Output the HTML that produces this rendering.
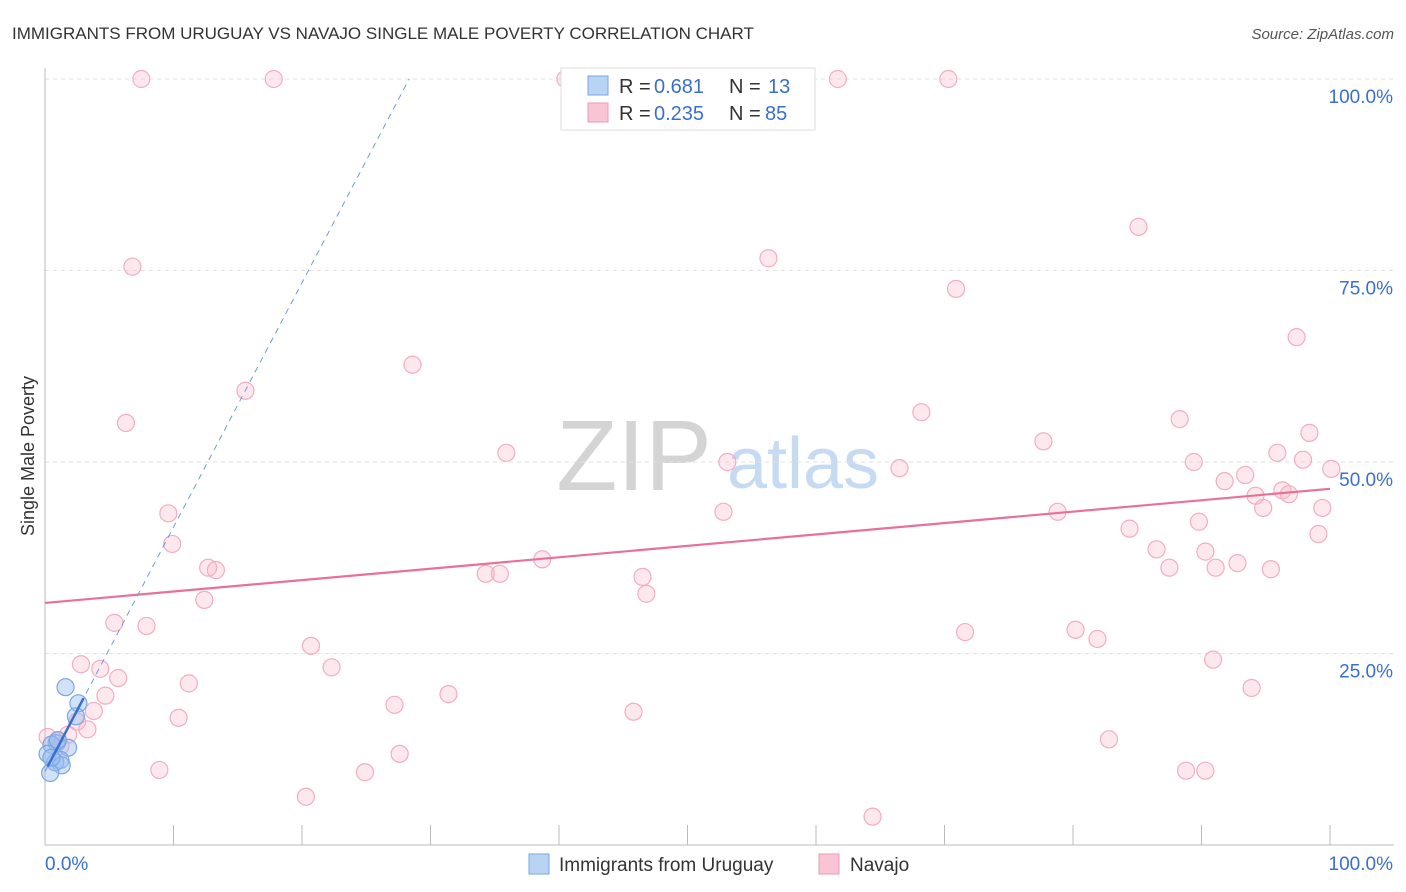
<!DOCTYPE html>
<html><head><meta charset="utf-8">
<style>
body{margin:0;background:#fff;font-family:"Liberation Sans",sans-serif;}
#wrap{position:relative;width:1406px;height:892px;overflow:hidden;}
svg text{font-family:"Liberation Sans",sans-serif;}
</style></head>
<body>
<div id="wrap">
<svg id="chart" width="1406" height="892">
<text x="12" y="39" font-size="17" fill="#333">IMMIGRANTS FROM URUGUAY VS NAVAJO SINGLE MALE POVERTY CORRELATION CHART</text>
<text x="1394" y="39" font-size="15" fill="#555" font-style="italic" text-anchor="end">Source: ZipAtlas.com</text>
<g>
<text x="634" y="490" font-size="100" fill="#d4d4d4" font-family="Liberation Serif" text-anchor="middle">ZIP</text>
<text x="803" y="488" font-size="72" fill="#c6daf2" text-anchor="middle">atlas</text>
</g>
<g id="grid"></g>
<g id="axes"></g>
<g id="pts"></g>
<g id="lines"></g>
<text transform="translate(34,456) rotate(-90)" font-size="18" fill="#333" text-anchor="middle">Single Male Poverty</text>
<g>
<rect x="561" y="68" width="254" height="62" fill="#fff" stroke="#ddd"/>
<rect x="588" y="76" width="20" height="19" fill="#b9d3f5" stroke="#7aa7e0"/>
<text x="619" y="93" font-size="20" fill="#333">R = </text><text x="654" y="93" font-size="20" fill="#3a6fd0">0.681</text>
<text x="729" y="93" font-size="20" fill="#333">N = </text><text x="768" y="93" font-size="20" fill="#3a6fd0">13</text>
<rect x="588" y="103" width="20" height="19" fill="#f9c4d4" stroke="#ee9ab4"/>
<text x="619" y="120" font-size="20" fill="#333">R = </text><text x="654" y="120" font-size="20" fill="#3a6fd0">0.235</text>
<text x="729" y="120" font-size="20" fill="#333">N = </text><text x="765" y="120" font-size="20" fill="#3a6fd0">85</text>
</g>
<g>
<rect x="529" y="854" width="20" height="20" fill="#b9d3f5" stroke="#7aa7e0"/>
<text x="559" y="871" font-size="19" fill="#333">Immigrants from Uruguay</text>
<rect x="819" y="854" width="20" height="20" fill="#f9c4d4" stroke="#ee9ab4"/>
<text x="850" y="871" font-size="19" fill="#333">Navajo</text>
</g>
</svg>
</div>
<script>
const yTicks=[25,50,75,100];
const yTickLabels=["25.0%","50.0%","75.0%","100.0%"];
const xTickLabels=["0.0%","100.0%"];
const pinkX=[7.5,17.8,40.5,61.7,70.3,85.1,6.8,56.3,70.9,97.4,28.6,15.6,6.3,68.2,88.3,77.7,35.9,53.1,98.4,95.9,89.4,97.9,66.5,100.1,93.4,91.8,94.2,96.3,96.8,94.8,99.4,9.6,52.8,78.8,84.4,89.8,99.1,9.9,86.5,90.3,38.7,12.7,13.3,87.5,91.1,92.8,95.4,34.3,35.4,46.5,46.8,12.4,5.4,7.9,71.6,80.2,81.9,20.7,2.8,22.3,90.9,4.3,5.7,11.2,4.7,31.4,93.9,3.8,27.2,10.4,45.8,2.5,3.3,1.8,82.8,1.0,0.2,1.2,27.6,8.9,24.9,88.8,90.3,20.3,64.4];
const pinkY=[100,100,100,100,100,80.7,75.5,76.6,72.6,66.3,62.7,59.3,55.1,56.5,55.6,52.7,51.2,50.0,53.8,51.2,50.0,50.3,49.2,49.1,48.3,47.5,45.6,46.3,45.8,44.0,44.0,43.3,43.5,43.5,41.3,42.2,40.6,39.3,38.6,38.3,37.3,36.2,35.9,36.2,36.2,36.8,36.0,35.4,35.4,35.0,32.8,32.0,29.0,28.6,27.8,28.1,26.9,26.0,23.6,23.2,24.2,23.0,21.8,21.1,19.5,19.7,20.5,17.5,18.3,16.6,17.4,16.1,15.1,14.4,13.8,13.6,14.1,12.9,11.9,9.8,9.5,9.7,9.7,6.3,3.7];
const blueX=[1.6,2.6,2.4,0.9,1.8,0.5,0.2,1.2,0.8,1.3,0.4,0.5,1.0];
const blueY=[20.6,18.5,16.8,13.3,12.7,13.1,11.9,11.1,10.8,10.4,9.4,11.4,13.7];
const pinkTrend=[31.6,46.5];
const blueTrend={intercept:9.6,slope:3.19};
const NS="http://www.w3.org/2000/svg";
const X0=45,X1=1330,Y0=845,Y100=79;
const sx=v=>X0+(X1-X0)*v/100;
const sy=v=>Y0-(Y0-Y100)*v/100;
function mk(tag,attrs,parent){const e=document.createElementNS(NS,tag);for(const k in attrs)e.setAttribute(k,attrs[k]);parent.appendChild(e);return e;}
const grid=document.getElementById('grid'),axes=document.getElementById('axes'),pts=document.getElementById('pts'),lines=document.getElementById('lines');
yTicks.forEach((t,i)=>{
 const l=mk('line',{x1:X0,x2:1394,y1:sy(t),y2:sy(t),stroke:'#e2e2e2','stroke-dasharray':'4,4'},grid);
 
 
 const tx=mk('text',{x:1393,y:sy(t)+24,'font-size':19,fill:'#3a6fd0','text-anchor':'end'},axes);
 tx.textContent=yTickLabels[i];
 
 
});
const ya=mk('line',{x1:X0,x2:X0,y1:68,y2:Y0,stroke:'#bbb'},axes);


const xa=mk('line',{x1:X0,x2:1394,y1:Y0,y2:Y0,stroke:'#bbb'},axes);


for(let i=0;i<=10;i++){
 const t=mk('line',{x1:sx(i*10),x2:sx(i*10),y1:825,y2:Y0,stroke:'#bbb'},axes);
 
 
}
[[0,'start',45],[100,'end',1393]].forEach((d,i)=>{
 const tx=mk('text',{x:d[2],y:870,'font-size':19,fill:'#3a6fd0','text-anchor':d[1]},axes);
 tx.textContent=xTickLabels[i];
 
 
});
pinkX.forEach((x,i)=>{
 const c=mk('circle',{cx:sx(x),cy:sy(pinkY[i]),r:8.5,fill:'rgba(248,180,200,0.3)',stroke:'#f2adc2','stroke-width':1.2},pts);
 
 
});
blueX.forEach((x,i)=>{
 const c=mk('circle',{cx:sx(x),cy:sy(blueY[i]),r:8.5,fill:'rgba(150,188,240,0.45)',stroke:'#7aa7e0','stroke-width':1.2},pts);
 
 
});
const pl=mk('line',{x1:sx(0),y1:sy(pinkTrend[0]),x2:sx(100),y2:sy(pinkTrend[1]),stroke:'#e8709a','stroke-width':2.2},lines);


const bx1=(100-blueTrend.intercept)/blueTrend.slope;
const bd=mk('line',{x1:sx(0),y1:sy(blueTrend.intercept),x2:sx(bx1),y2:sy(100),stroke:'#6f9ae0','stroke-width':1,'stroke-dasharray':'6,5'},lines);


const bs=mk('line',{x1:sx(0.2),y1:sy(blueTrend.intercept+blueTrend.slope*0.2),x2:sx(3),y2:sy(blueTrend.intercept+blueTrend.slope*3),stroke:'#3a6fd0','stroke-width':2.5},lines);


</script>
</body></html>
